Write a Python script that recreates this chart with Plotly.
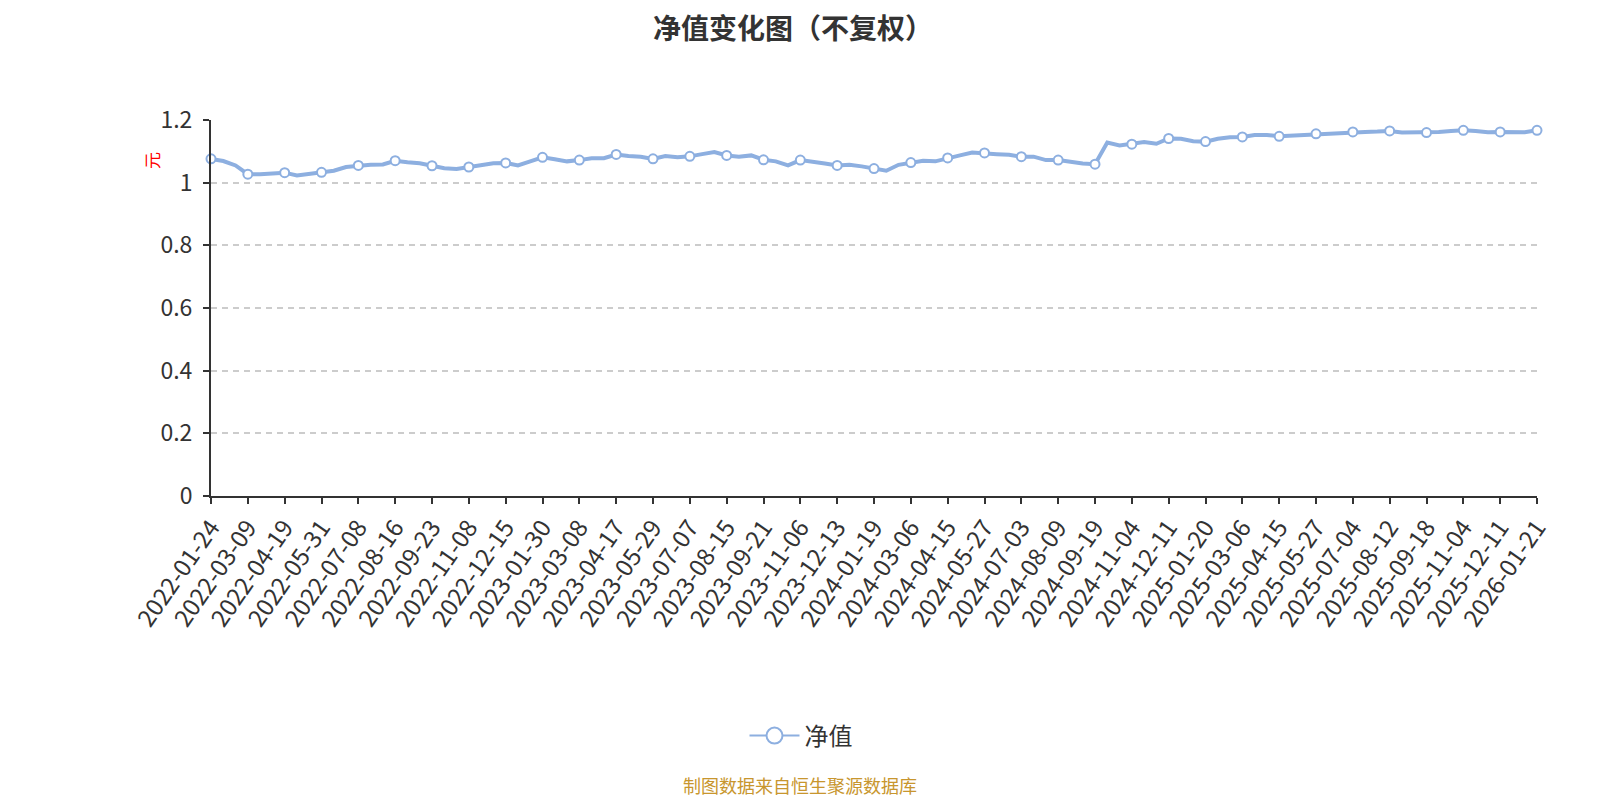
import plotly.graph_objects as go

# 类目轴上的标注日期（每隔 27 个交易日一个）
label_dates = ["2022-01-24", "2022-03-09", "2022-04-19", "2022-05-31", "2022-07-08",
               "2022-08-16", "2022-09-23", "2022-11-08", "2022-12-15", "2023-01-30",
               "2023-03-08", "2023-04-17", "2023-05-29", "2023-07-07", "2023-08-15",
               "2023-09-21", "2023-11-06", "2023-12-13", "2024-01-19", "2024-03-06",
               "2024-04-15", "2024-05-27", "2024-07-03", "2024-08-09", "2024-09-19",
               "2024-11-04", "2024-12-11", "2025-01-20", "2025-03-06", "2025-04-15",
               "2025-05-27", "2025-07-04", "2025-08-12", "2025-09-18", "2025-11-04",
               "2025-12-11", "2026-01-21"]
label_step = 27

# 净值，每 9 个交易日读一个点（每个标注区间 3 个）
nav_step = 9
nav_values = [
    1.076, 1.069, 1.055,
    1.027, 1.027, 1.029,
    1.032, 1.023, 1.028,
    1.033, 1.038, 1.050,
    1.055, 1.057, 1.058,
    1.070, 1.065, 1.062,
    1.054, 1.046, 1.044,
    1.050, 1.054, 1.062,
    1.063, 1.055, 1.068,
    1.081, 1.075, 1.068,
    1.072, 1.078, 1.078,
    1.090, 1.085, 1.083,
    1.076, 1.085, 1.081,
    1.084, 1.091, 1.098,
    1.087, 1.083, 1.087,
    1.073, 1.068, 1.055,
    1.072, 1.068, 1.061,
    1.055, 1.057, 1.052,
    1.045, 1.038, 1.057,
    1.064, 1.070, 1.068,
    1.079, 1.087, 1.096,
    1.095, 1.091, 1.089,
    1.083, 1.083, 1.072,
    1.072, 1.065, 1.061,
    1.059, 1.128, 1.119,
    1.123, 1.130, 1.124,
    1.141, 1.140, 1.132,
    1.131, 1.140, 1.145,
    1.146, 1.152, 1.152,
    1.148, 1.150, 1.154,
    1.156, 1.159, 1.160,
    1.162, 1.162, 1.163,
    1.165, 1.160, 1.160,
    1.160, 1.162, 1.165,
    1.167, 1.165, 1.161,
    1.162, 1.162, 1.161,
    1.167,
]

nav_x = [i * nav_step for i in range(len(nav_values))]
tick_x = [i * label_step for i in range(len(label_dates))]
per_label = label_step // nav_step
marker_y = nav_values[::per_label]

blue = "#8DAFE0"
font = "Noto Sans CJK SC"

# page body has an 8px margin, so the figure is 8px smaller and everything is shifted
W, H = 1592, 792

fig = go.Figure()
fig.add_trace(go.Scatter(x=nav_x, y=nav_values, mode="lines", showlegend=False,
                         line=dict(color=blue, width=4), cliponaxis=False,
                         hoverinfo="skip"))
fig.add_trace(go.Scatter(x=tick_x, y=marker_y, mode="markers", showlegend=False,
                         marker=dict(size=9, color="white", line=dict(color=blue, width=2)),
                         cliponaxis=False))
# legend entry only
fig.add_trace(go.Scatter(x=[None], y=[None], mode="lines+markers", name="净值",
                         line=dict(color=blue, width=2),
                         marker=dict(size=20, color="white", line=dict(color=blue, width=2))))

fig.update_layout(
    width=W, height=H,
    margin=dict(l=203, r=63, t=112, b=304),
    paper_bgcolor="white", plot_bgcolor="white",
    font=dict(family=font, color="#333"),
    title=dict(text="<b>净值变化图（不复权）</b>", x=785 / W, xref="container", xanchor="center",
               y=1 - 21 / H, yanchor="middle", font=dict(size=28, color="#333")),
    legend=dict(orientation="h", xref="container", yref="container", x=793 / W, xanchor="center",
                y=1 - 728 / H, yanchor="middle", itemwidth=50,
                font=dict(size=24, color="#333")),
    xaxis=dict(range=[0, nav_x[-1]], tickmode="array", tickvals=tick_x, ticktext=label_dates,
               tickangle=-55, tickfont=dict(size=24, color="#333"),
               showline=True, linecolor="#333", linewidth=2,
               ticks="outside", ticklen=6, tickcolor="#333", tickwidth=2,
               showgrid=False, zeroline=False),
    yaxis=dict(range=[0, 1.2], dtick=0.2, tickfont=dict(size=23, color="#333"),
               showline=True, linecolor="#333", linewidth=2,
               ticks="outside", ticklen=6, tickcolor="#333", tickwidth=2,
               ticklabelstandoff=6,
               showgrid=True, gridcolor="#ccc", griddash="6px,5px", gridwidth=1.5,
               zeroline=False),
    annotations=[
        dict(text="元", x=(151 - 211) / 1326, y=(496 - 161) / 376, xref="paper", yref="paper",
             xanchor="center", yanchor="middle",
             showarrow=False, textangle=-90, font=dict(size=17, color="red")),
        dict(text="制图数据来自恒生聚源数据库", x=(800 - 211) / 1326, y=(496 - 785) / 376,
             xref="paper", yref="paper", xanchor="center", yanchor="middle", showarrow=False,
             font=dict(size=18, color="#C8962E")),
    ],
)

fig.write_html("out.html")
